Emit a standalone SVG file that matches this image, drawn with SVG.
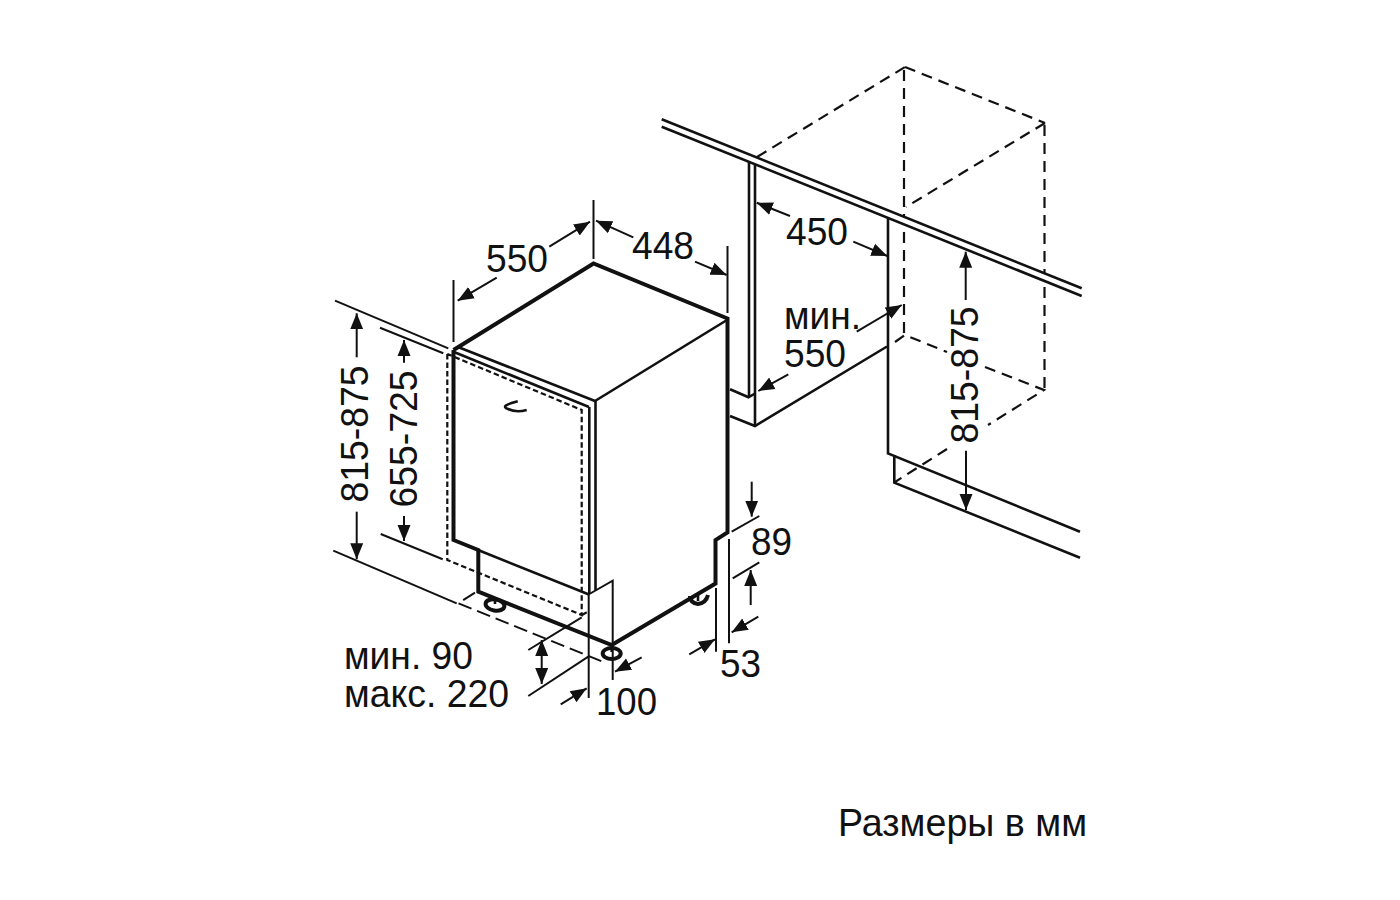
<svg xmlns="http://www.w3.org/2000/svg" width="1400" height="900" viewBox="0 0 1400 900">
<defs>
<style>
line,path,polyline,ellipse{fill:none;stroke:#111;stroke-linecap:butt;stroke-linejoin:miter}
.t{stroke-width:2}
.k{stroke-width:4}
.m{stroke-width:2.6}
.d{stroke-width:2.2;stroke-dasharray:11 7}
.l{stroke-width:2;stroke-dasharray:14 6}
.s{stroke-width:2.2;stroke-dasharray:5.500 3}
.f{stroke-width:4}
.a{stroke-width:2;marker-end:url(#ah)}
.b{stroke-width:2;marker-start:url(#as);marker-end:url(#ah)}
text{font-family:"Liberation Sans",Arial,sans-serif;font-size:39px;fill:#111}
</style>
<marker id="ah" markerUnits="userSpaceOnUse" markerWidth="18" markerHeight="16" refX="16" refY="8" orient="auto"><path d="M0 1.500L16 8L0 14.500Z" style="fill:#111;stroke:none"/></marker>
<marker id="as" markerUnits="userSpaceOnUse" markerWidth="18" markerHeight="16" refX="0" refY="8" orient="auto"><path d="M16 1.500L0 8L16 14.500Z" style="fill:#111;stroke:none"/></marker>
</defs>
<rect width="1400" height="900" fill="#fff"/>
<g id="niche">
<line class="d" x1="757" y1="157" x2="905" y2="67"/>
<line class="d" x1="905" y1="67" x2="1045" y2="123"/>
<line class="d" x1="1045" y1="123" x2="906" y2="207"/>
<line class="d" x1="904" y1="70" x2="904" y2="335"/>
<line class="d" x1="1044.500" y1="125" x2="1044.500" y2="390"/>
<path class="d" d="M895 342L905 335L947 352M985 367L1044 390L988 425M947 449L895 482"/>
<path d="M661.700 123L1081.700 292" style="stroke:#fff;stroke-width:7"/>
<line class="m" x1="661.700" y1="119.300" x2="1081.700" y2="288.300"/>
<line class="m" x1="661.700" y1="126.700" x2="1081.700" y2="296"/>
<line class="m" x1="749" y1="162" x2="749" y2="397"/>
<line class="m" x1="755" y1="165" x2="755" y2="426"/>
<polyline class="m" points="730,389.300 748.500,397.300 755,393.500"/>
<polyline class="m" points="730,416 755,426 887,346.500"/>
<polyline class="m" points="888,218 888,453.500 1080,531.700"/>
<polyline class="m" points="894.300,455 894.300,482.700 1080,557.700"/>
</g>
<g id="appliance">
<polyline class="k" points="453.500,350 593.500,263.500 727.500,318.500 727.500,532.500 715.500,540 715.500,583.500 611.700,645 478.300,591.700 478.300,550 453.500,540 453.500,350"/>
<line class="m" x1="595" y1="401" x2="727" y2="320"/>
<line class="m" x1="458" y1="347" x2="595" y2="401"/>
<line class="m" x1="454" y1="352" x2="589" y2="407"/>
<line class="m" x1="478" y1="550" x2="589" y2="594.500"/>
<line class="m" x1="589.300" y1="407" x2="589.300" y2="594"/>
<line class="m" x1="595.500" y1="401" x2="595.500" y2="590"/>
<polyline class="t" points="588.500,594.500 612.700,580.700 612.700,680"/>
<line class="t" x1="588.700" y1="594" x2="588.700" y2="698"/>
<path class="s" d="M447.300 354V560L581.700 615V410L447.300 354"/>
<line class="s" x1="582" y1="615" x2="589" y2="611"/>
<path class="m" d="M517.700 401.300Q499 406 508 409Q516 413 526.700 410"/>
<ellipse class="f" cx="495" cy="605" rx="9.500" ry="5.500" transform="rotate(10 495 605)"/>
<line class="m" x1="495" y1="597" x2="495" y2="604"/>
<path class="f" d="M690 596Q690 603 698 604Q706 603 708 595"/>
<line class="m" x1="698" y1="595" x2="698" y2="601"/>
<ellipse class="f" cx="611.700" cy="653.500" rx="9" ry="5.500"/>
<line class="m" x1="611.700" y1="646" x2="611.700" y2="652"/>
</g>
<g id="connectors">
<line class="t" x1="593.500" y1="200" x2="593.500" y2="259"/>
<line class="t" x1="727.500" y1="246" x2="727.500" y2="313"/>
<line class="t" x1="453.500" y1="280" x2="453.500" y2="342"/>
<line class="t" x1="335" y1="300.700" x2="448.300" y2="348.300"/>
<line class="t" x1="380" y1="327.700" x2="443.300" y2="353.300"/>
<line class="t" x1="333.300" y1="550.700" x2="456.700" y2="603.300"/>
<line class="t" x1="380.700" y1="534" x2="442.700" y2="559.300"/>
<line class="t" x1="528.300" y1="650" x2="581.700" y2="617.300"/>
<line class="t" x1="528.300" y1="696" x2="588.300" y2="656.700"/>
<path class="l" d="M475 592.700L458.300 603.300L606.700 663.300"/>
<line class="t" x1="731.700" y1="531.700" x2="759.300" y2="516"/>
<line class="t" x1="732.700" y1="578.300" x2="759.300" y2="562.300"/>
<line class="t" x1="729" y1="539" x2="729" y2="643.300"/>
<line class="t" x1="716" y1="588" x2="716" y2="651.700"/>
<line class="a" x1="496.700" y1="277.700" x2="457.700" y2="300.700"/>
<line class="a" x1="549.300" y1="246.700" x2="590" y2="221.700"/>
<line class="a" x1="633.300" y1="237.300" x2="596" y2="220.700"/>
<line class="a" x1="695" y1="261.700" x2="726.700" y2="275"/>
<line class="a" x1="356.700" y1="357.300" x2="356.700" y2="313.300"/>
<line class="a" x1="356.700" y1="511.700" x2="356.700" y2="559.300"/>
<line class="a" x1="404" y1="362.700" x2="404" y2="340"/>
<line class="a" x1="404" y1="516" x2="404" y2="541"/>
<line class="a" x1="751.700" y1="481.700" x2="751.700" y2="516.700"/>
<line class="a" x1="750.700" y1="605" x2="750.700" y2="570"/>
<line class="a" x1="758.300" y1="616.700" x2="731.700" y2="632.300"/>
<line class="a" x1="689.300" y1="654.300" x2="715" y2="639.300"/>
<line class="a" x1="560.700" y1="704.300" x2="586.700" y2="688.300"/>
<line class="a" x1="641.700" y1="657.300" x2="615" y2="671.700"/>
<line class="b" x1="541.700" y1="640" x2="541.700" y2="684"/>
<line class="a" x1="790" y1="216" x2="756.700" y2="202.700"/>
<line class="a" x1="853.300" y1="241.700" x2="887.300" y2="256"/>
<line class="a" x1="856.700" y1="331.700" x2="901.700" y2="305"/>
<line class="a" x1="788.300" y1="374.300" x2="758.300" y2="391"/>
<line class="a" x1="965.700" y1="300" x2="965.700" y2="251.700"/>
<line class="a" x1="966" y1="450.700" x2="966" y2="510"/>
</g>
<g id="labels">
<text x="486" y="272" textLength="62" lengthAdjust="spacingAndGlyphs">550</text>
<text x="632" y="259" textLength="62" lengthAdjust="spacingAndGlyphs">448</text>
<text x="786" y="245" textLength="62" lengthAdjust="spacingAndGlyphs">450</text>
<text x="784" y="329" textLength="77" lengthAdjust="spacingAndGlyphs">мин.</text>
<text x="784" y="367" textLength="62" lengthAdjust="spacingAndGlyphs">550</text>
<text x="751" y="555" textLength="41" lengthAdjust="spacingAndGlyphs">89</text>
<text x="720" y="677" textLength="41" lengthAdjust="spacingAndGlyphs">53</text>
<text x="596" y="715" textLength="61" lengthAdjust="spacingAndGlyphs">100</text>
<text x="344" y="669" textLength="129" lengthAdjust="spacingAndGlyphs">мин. 90</text>
<text x="344" y="707" textLength="165" lengthAdjust="spacingAndGlyphs">макс. 220</text>
<text x="838" y="836" textLength="249" lengthAdjust="spacingAndGlyphs">Размеры в мм</text>
<text transform="translate(368 434) rotate(-90)" text-anchor="middle" textLength="137" lengthAdjust="spacingAndGlyphs">815-875</text>
<text transform="translate(417 439) rotate(-90)" text-anchor="middle" textLength="137" lengthAdjust="spacingAndGlyphs">655-725</text>
<text transform="translate(978 375) rotate(-90)" text-anchor="middle" textLength="137" lengthAdjust="spacingAndGlyphs">815-875</text>
</g>
</svg>
